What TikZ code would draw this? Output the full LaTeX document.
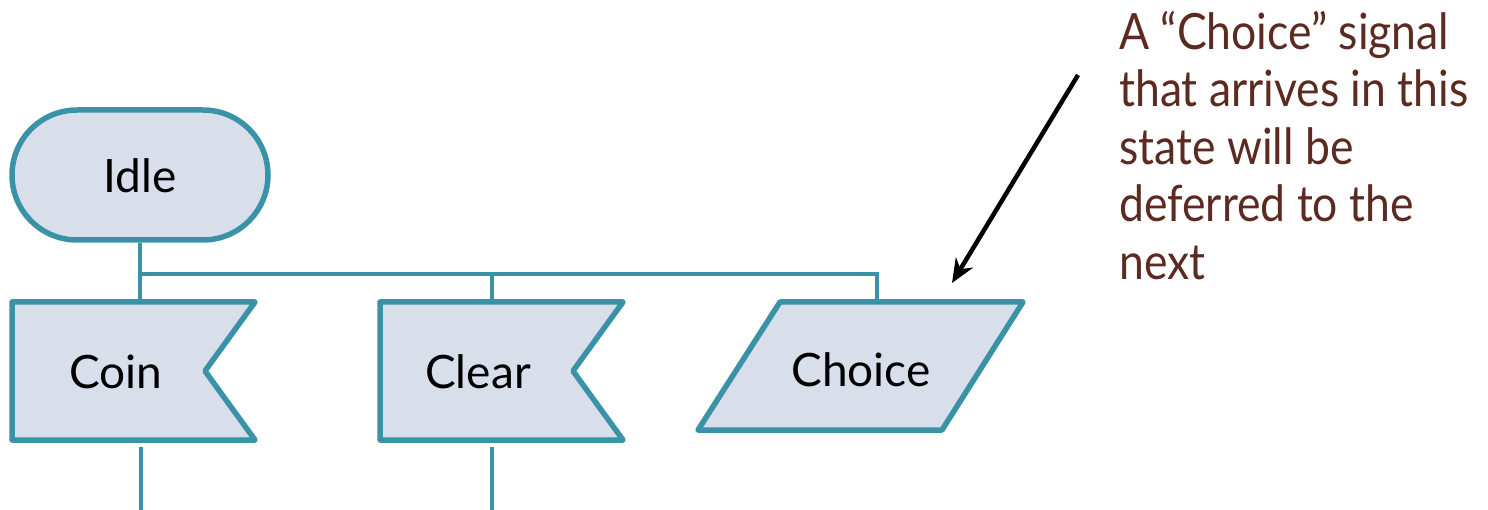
\documentclass[tikz,border=0pt]{standalone}
\usepackage{fontspec}
\setmainfont{Lato}
\newfontfamily\notefont[FakeStretch=0.89]{Lato}
\usetikzlibrary{shapes.misc,calc,arrows.meta}
\definecolor{sdlline}{HTML}{3A92A7}
\definecolor{sdlfill}{HTML}{D9DEEB}
\definecolor{notebrown}{HTML}{5C2A21}
\begin{document}
\begin{tikzpicture}[x=1pt,y=-1pt,
  box/.style={draw=sdlline, fill=sdlfill, line width=5.5pt, line join=round},
  area/.style={rectangle, inner sep=0pt, outer sep=0pt},
  conn/.style={draw=sdlline, line width=4pt},
  lbl/.style={font=\fontsize{46}{50}\selectfont, text=black, inner sep=0pt},
  note/.style={font=\notefont\fontsize{50}{57.5}\selectfont, text=notebrown, inner sep=0pt, align=left}]
\useasboundingbox (0,0) rectangle (1488,510);

% state symbol
\node[box, rounded rectangle, minimum width=256pt, minimum height=130pt, inner sep=0pt] (idle) at (140,175) {};
\node[lbl] (idlelbl) at (140,176) {Idle};

% input signal symbols
\node[area, minimum width=243pt, minimum height=138pt] (coin) at (133.5,371) {};
\draw[box] (coin.north west) -- (coin.north east) -- ($(coin.east)+(-50,0)$) -- (coin.south east) -- (coin.south west) -- cycle;
\node[lbl] (coinlbl) at (116,372) {Coin};

\node[area, minimum width=243pt, minimum height=138pt] (clear) at (501.5,371) {};
\draw[box] (clear.north west) -- (clear.north east) -- ($(clear.east)+(-50,0)$) -- (clear.south east) -- (clear.south west) -- cycle;
\node[lbl] (clearlbl) at (478,372) {Clear};

% save symbol
\node[area, minimum width=325pt, minimum height=128pt] (choice) at (860.5,366) {};
\draw[box] ($(choice.north west)+(82,0)$) -- (choice.north east) -- ($(choice.south east)+(-81,0)$) -- (choice.south west) -- cycle;
\node[lbl] (choicelbl) at (861,370) {Choice};

% connections
\coordinate (bus) at ($(idle.south)+(0,31)$);
\coordinate (cleartap) at ($(clear.north)+(-9.5,0)$);
\coordinate (choicetap) at ($(choice.north)+(16.5,0)$);
\coordinate (coinexit) at (141,510);
\coordinate (clearexit) at (492,510);
\draw[conn] (idle.south) -- (idle.south |- coin.north);
\draw[conn] (bus) -| (choicetap);
\draw[conn] (bus -| cleartap) -- (cleartap);
\draw[conn] (coinexit |- coin.south) ++(0,7) -- (coinexit);
\draw[conn] (clearexit |- clear.south) ++(0,7) -- (clearexit);

% annotation
\node[note, anchor=north west] (note) at (1119,11) {A “Choice” signal\\that arrives in this\\state will be\\deferred to the\\next};
\coordinate (notetail) at (1078,75);
\coordinate (notehead) at (952,283);
\draw[line width=4.5pt, -{Stealth[length=24pt,width=20pt]}] (notetail) -- (notehead);
\end{tikzpicture}
\end{document}
